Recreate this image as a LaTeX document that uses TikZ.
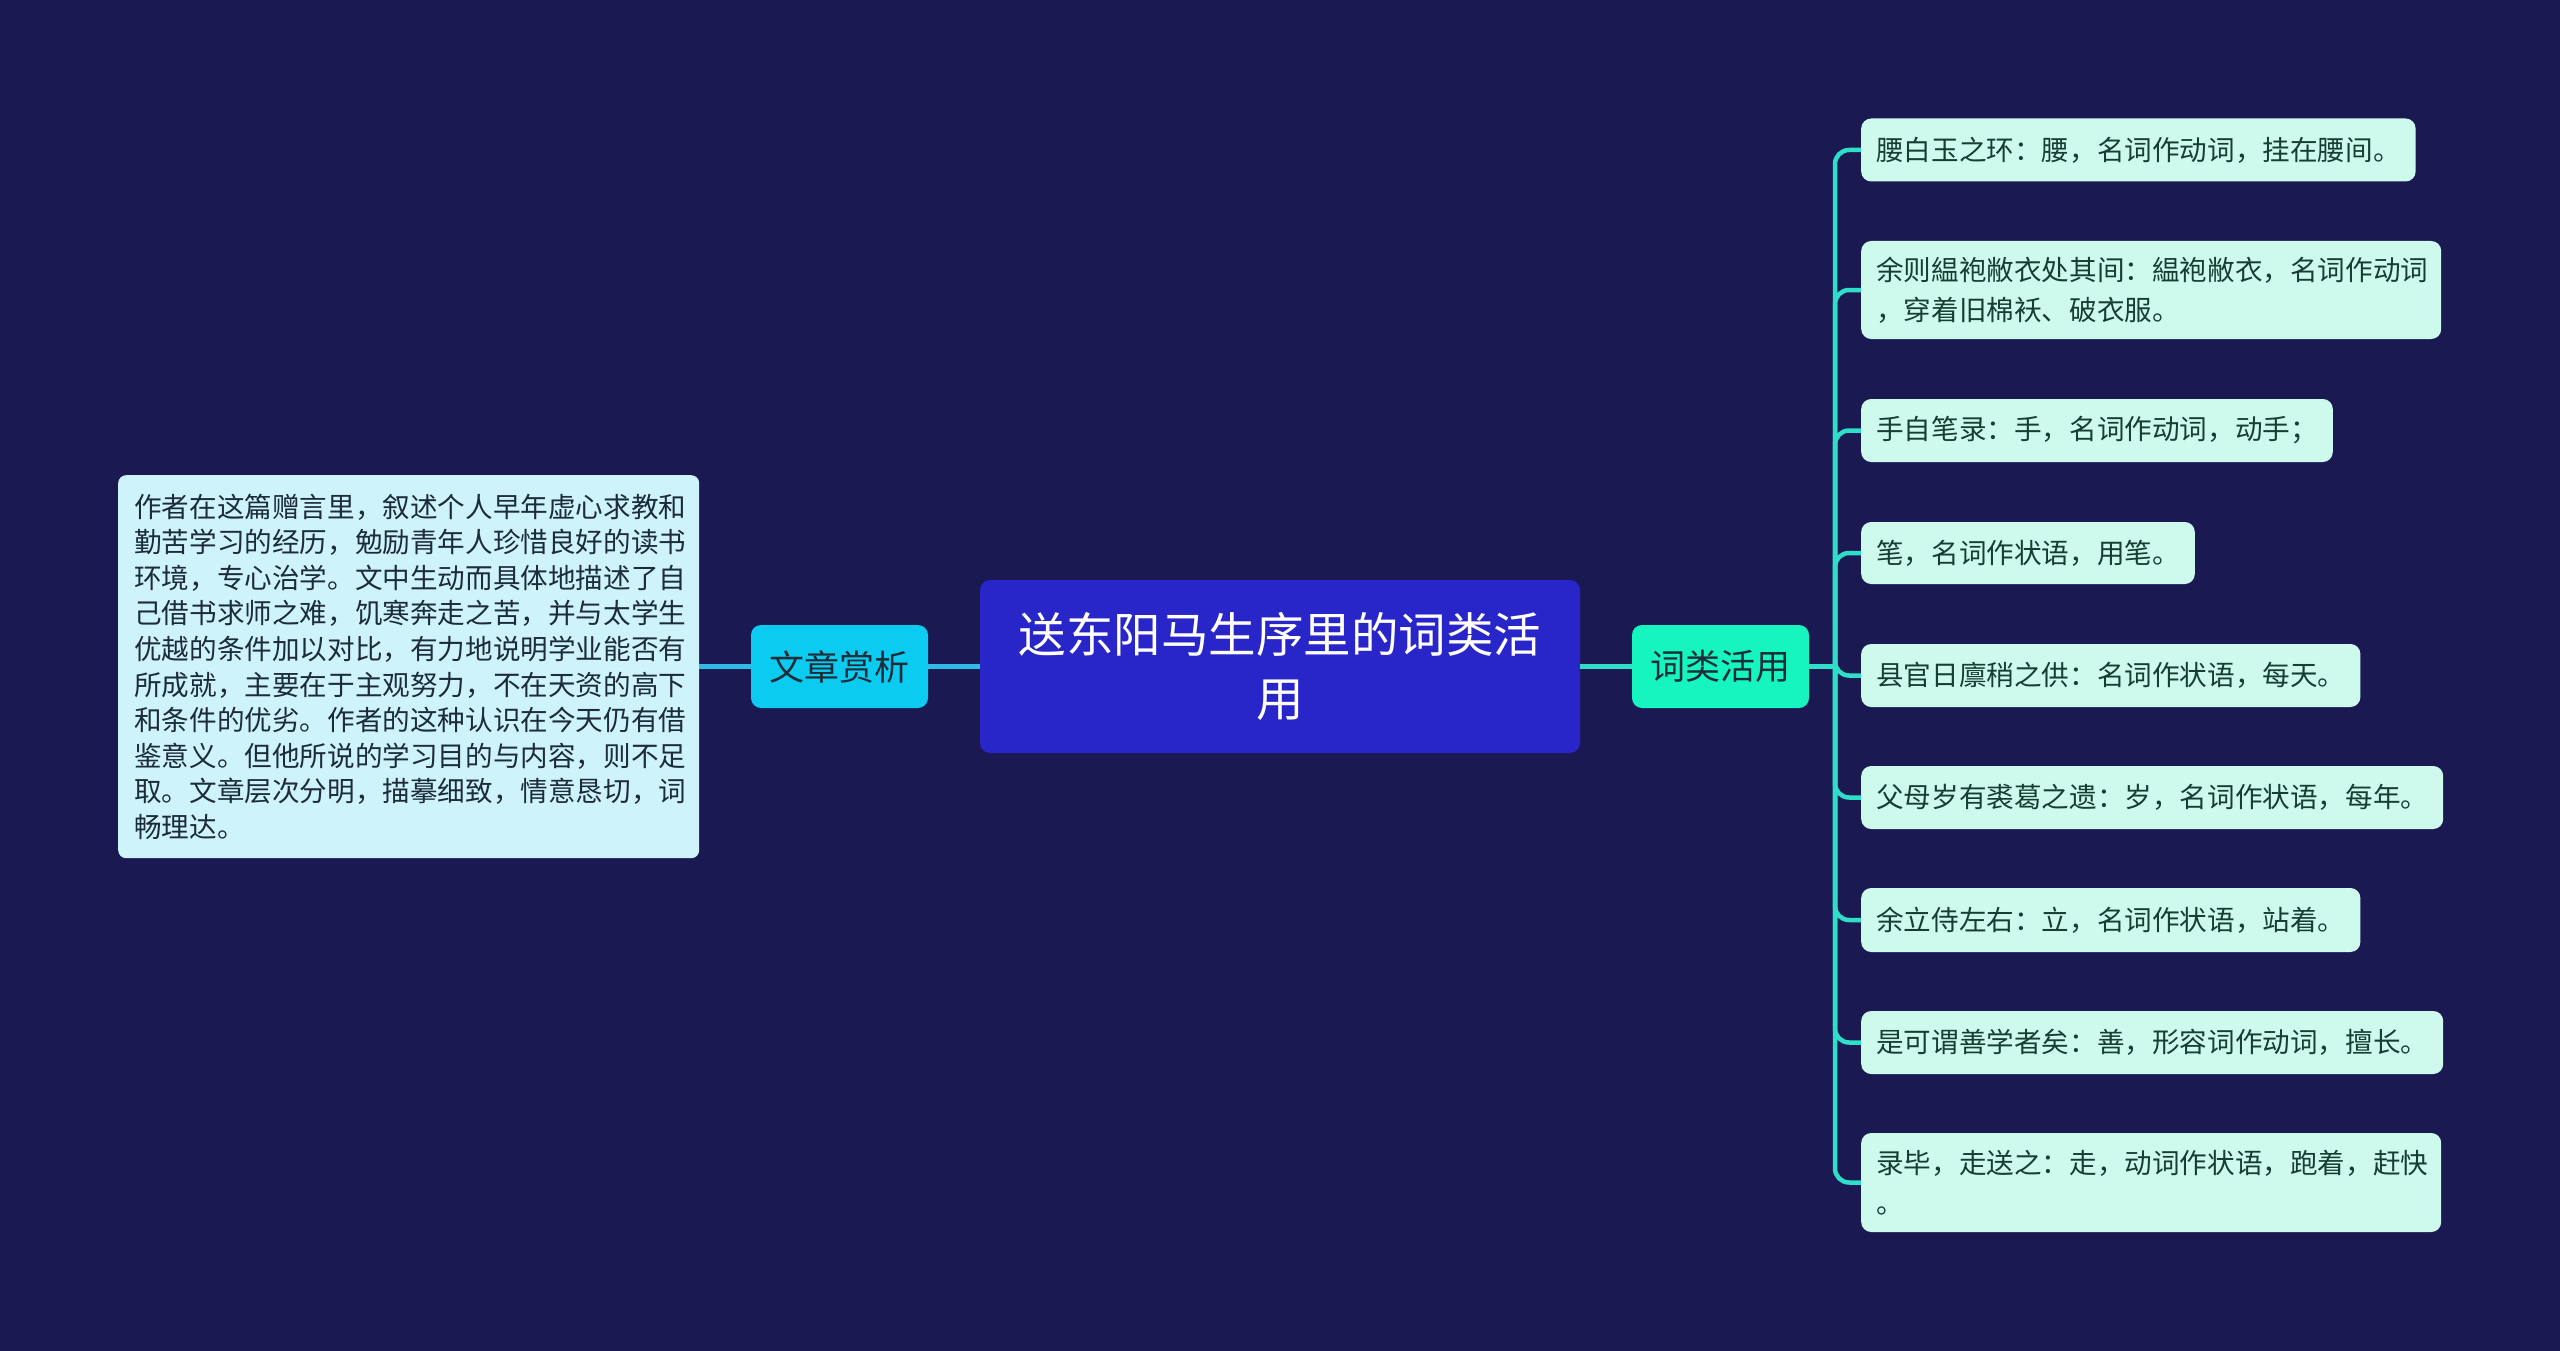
\documentclass[tikz,border=0pt]{standalone}
\usepackage{fontspec}
\setmainfont{Noto Sans CJK SC}
\definecolor{bg}{RGB}{27,25,82}
\definecolor{rootfill}{RGB}{40,38,200}
\definecolor{cyanfill}{RGB}{12,203,240}
\definecolor{mintfill}{RGB}{22,245,192}
\definecolor{leaffill}{RGB}{206,250,238}
\definecolor{notefill}{RGB}{206,243,251}
\definecolor{lline}{RGB}{48,186,230}
\definecolor{rline}{RGB}{46,222,200}
\definecolor{darktext}{RGB}{28,44,56}
\definecolor{leaftext}{RGB}{22,62,52}
\tikzset{
  rootbox/.style={fill=rootfill, rounded corners=10pt, text=white, align=center,
    minimum width=600pt, minimum height=173pt, inner sep=0pt,
    font=\fontsize{47.5}{64}\selectfont},
  midbox/.style={rounded corners=10pt, text=darktext, align=center,
    minimum width=177pt, minimum height=83pt, inner sep=0pt,
    font=\fontsize{35}{40}\selectfont},
  leafbox/.style={fill=leaffill, rounded corners=10pt, text=leaftext, align=left,
    anchor=west, inner xsep=15pt, inner ysep=0pt,
    font=\fontsize{27.6}{39.5}\selectfont},
  notebox/.style={fill=notefill, rounded corners=8pt, text=darktext, align=left,
    anchor=north west, inner xsep=16pt, inner ysep=0pt, text width=553pt,
    minimum height=383pt, font=\fontsize{27.6}{35.6}\selectfont},
  lconn/.style={draw=lline, line width=4.5pt},
  rconn/.style={draw=rline, line width=4.5pt, rounded corners=14pt},
}
\begin{document}
\begin{tikzpicture}[x=1pt,y=-1pt]
\useasboundingbox (0,0) rectangle (2560,1351);
\fill[bg] (0,0) rectangle (2560,1351);

\node[rootbox] (root) at (1280,666.5) {送东阳马生序里的词类活\\用};
\node[midbox, fill=cyanfill] (wz) at (839.5,666.5) {文章赏析};
\node[midbox, fill=mintfill] (cl) at (1720.5,666.5) {词类活用};

\node[notebox, text width=549pt] (note) at (118,475) {作者在这篇赠言里，叙述个人早年虚心求教和\\勤苦学习的经历，勉励青年人珍惜良好的读书\\环境，专心治学。文中生动而具体地描述了自\\己借书求师之难，饥寒奔走之苦，并与太学生\\优越的条件加以对比，有力地说明学业能否有\\所成就，主要在于主观努力，不在天资的高下\\和条件的优劣。作者的这种认识在今天仍有借\\鉴意义。但他所说的学习目的与内容，则不足\\取。文章层次分明，描摹细致，情意恳切，词\\畅理达。};

\node[leafbox, minimum width=552pt, minimum height=63pt] (c1) at (1861,150) {腰白玉之环：腰，名词作动词，挂在腰间。};
\node[leafbox, minimum width=580pt, minimum height=98pt, text width=550pt] (c2) at (1861,290) {余则緼袍敝衣处其间：緼袍敝衣，名词作动词\\，穿着旧棉袄、破衣服。};
\node[leafbox, minimum width=469pt, minimum height=63pt] (c3) at (1861,430.5) {手自笔录：手，名词作动词，动手；};
\node[leafbox, minimum width=331pt, minimum height=62pt] (c4) at (1861,553) {笔，名词作状语，用笔。};
\node[leafbox, minimum width=497pt, minimum height=63pt] (c5) at (1861,675.5) {县官日廪稍之供：名词作状语，每天。};
\node[leafbox, minimum width=580pt, minimum height=63pt] (c6) at (1861,797.5) {父母岁有裘葛之遗：岁，名词作状语，每年。};
\node[leafbox, minimum width=497pt, minimum height=64pt] (c7) at (1861,920) {余立侍左右：立，名词作状语，站着。};
\node[leafbox, minimum width=580pt, minimum height=63pt] (c8) at (1861,1042.5) {是可谓善学者矣：善，形容词作动词，擅长。};
\node[leafbox, minimum width=580pt, minimum height=99pt, text width=550pt] (c9) at (1861,1182.5) {录毕，走送之：走，动词作状语，跑着，赶快\\。};

\coordinate (tr) at (1835,666.5);

\draw[lconn] (note.east |- wz.west) -- (wz.west);
\draw[lconn] (wz.east) -- (root.west);
\draw[rconn] (root.east) -- (cl.west);
\draw[rconn] (cl.east) -- (tr);
\foreach \c in {c1,c2,c3,c4,c5,c6,c7,c8,c9}{
  \draw[rconn] (tr) |- (\c.west);
}
\end{tikzpicture}
\end{document}
